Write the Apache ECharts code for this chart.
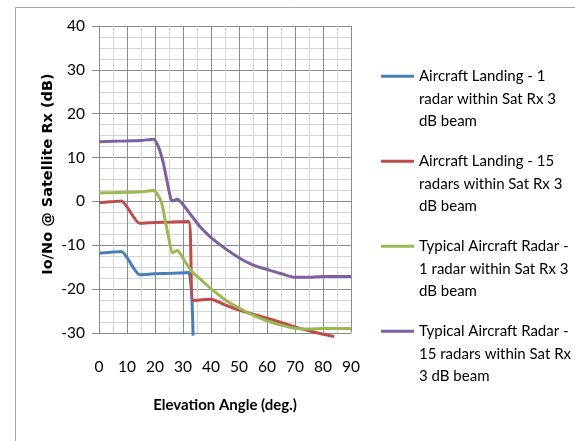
<!DOCTYPE html>
<html>
<head>
<meta charset="utf-8">
<script src="https://cdn.jsdelivr.net/npm/echarts@6/dist/echarts.min.js"></script>
<style>html,body{margin:0;padding:0;background:#fff;}#c{width:575px;height:441px;}</style>
</head>
<body>
<div id="c"></div>
<script>
const seriesNames = [
  'Aircraft Landing - 1\nradar within Sat Rx 3\ndB beam',
  'Aircraft Landing - 15\nradars within Sat Rx 3\ndB beam',
  'Typical Aircraft Radar -\n1 radar within Sat Rx 3\ndB beam',
  'Typical Aircraft Radar -\n15 radars within Sat Rx\n3 dB beam'
];
const blueX = [0, 4, 8, 14.5, 20, 26, 32, 33.6];
const blueY = [-11.8, -11.6, -11.4, -16.7, -16.5, -16.4, -16.2, -30.6];
const redX = [0, 4, 8, 14.5, 20, 26, 32, 33.7, 40, 45, 50, 55, 60, 65, 70, 75, 80, 84];
const redY = [-0.3, -0.1, 0.1, -5.0, -4.8, -4.7, -4.6, -22.6, -22.3, -23.6, -24.8, -25.7, -26.6, -27.6, -28.6, -29.5, -30.3, -30.8];
const greenX = [0, 5, 10, 15, 19.5, 21, 22.4, 23.6, 24.8, 26.2, 28, 30.7, 33.7, 36, 40, 45, 50, 55, 60, 65, 70, 75, 80, 85, 90];
const greenY = [1.9, 2.0, 2.1, 2.2, 2.5, 1.5, -0.4, -4.2, -8.0, -11.7, -11.2, -13.7, -16.4, -17.6, -19.9, -22.4, -24.3, -25.9, -27.2, -28.2, -28.9, -29.1, -29.0, -29.0, -29.0];
const purpleX = [0, 5, 10, 15, 19.5, 21.2, 23, 24.2, 25.6, 26.3, 28, 30.1, 33.7, 36.1, 39.6, 45, 50.4, 55.1, 60.5, 65.2, 70, 75.4, 80, 90];
const purpleY = [13.6, 13.7, 13.8, 13.9, 14.2, 12.5, 8.7, 4.9, 0.7, 0.1, 0.5, -0.8, -3.8, -5.8, -8.0, -10.7, -13.0, -14.5, -15.6, -16.5, -17.3, -17.3, -17.1, -17.1];
const colors = ['#4a7ebb', '#be4b48', '#98b954', '#7d60a0'];
const yTitle = 'Io/No @ Satellite Rx (dB)';
const xTitle = 'Elevation Angle (deg.)';

const allX = [blueX, redX, greenX, purpleX];
const allY = [blueY, redY, greenY, purpleY];
const FONT = 'Lato';

const chart = echarts.init(document.getElementById('c'));
chart.setOption({
  animation: false,
  backgroundColor: '#fff',
  color: colors,
  grid: { left: 99, right: 224, top: 26, bottom: 108, containLabel: false },
  xAxis: {
    type: 'value', min: 0, max: 90, interval: 10,
    name: xTitle, nameLocation: 'middle', nameGap: 65,
    nameTextStyle: { fontFamily: FONT, fontWeight: 'bold', fontSize: 15, color: '#000' },
    axisLine: { show: true, lineStyle: { color: '#8c8c8c', width: 1 } },
    axisTick: { show: false },
    axisLabel: { fontFamily: FONT, fontSize: 15.5, color: '#000', margin: 26 },
    splitLine: { show: true, lineStyle: { color: '#8c8c8c', width: 1 } },
    minorTick: { show: false, splitNumber: 2 },
    minorSplitLine: { show: true, lineStyle: { color: '#d4d4d4', width: 1 } }
  },
  yAxis: {
    type: 'value', min: -30, max: 40, interval: 10,
    axisLine: { show: true, lineStyle: { color: '#8c8c8c', width: 1 } },
    axisTick: { show: true, length: 7, inside: false, lineStyle: { color: '#8c8c8c' } },
    axisLabel: { fontFamily: FONT, fontSize: 15.5, color: '#000', margin: 14 },
    splitLine: { show: true, lineStyle: { color: '#8c8c8c', width: 1 } },
    minorTick: { show: false, splitNumber: 4 },
    minorSplitLine: { show: true, lineStyle: { color: '#d4d4d4', width: 1 } }
  },
  legend: {
    orient: 'vertical', left: 381, top: 65, padding: 0,
    itemWidth: 33, itemHeight: 67.5, itemGap: 17.5,
    icon: 'path://M0,0L0,0M0,9.75L33,9.75L33,12.75L0,12.75ZM0,67.5L0,67.5',
    textStyle: { fontFamily: FONT, fontSize: 15, color: '#000', lineHeight: 22.5 },
    data: seriesNames
  },
  graphic: [
    { type: 'rect', left: 13, top: 5, shape: { width: 600, height: 480 }, style: { fill: 'none', stroke: '#a6a6a6', lineWidth: 1 }, silent: true },
    { type: 'text', x: 48, y: 174, rotation: Math.PI / 2, style: { text: yTitle, fontFamily: 'DejaVu Sans', fontWeight: 'bold', fontSize: 14.5, fill: '#000', align: 'center', verticalAlign: 'middle' } }
  ],
  series: seriesNames.map((n, i) => ({
    name: n, type: 'line', showSymbol: false, symbol: 'none', clip: false,
    smooth: 0.2,
    lineStyle: { width: 3, color: colors[i] },
    data: allX[i].map((x, j) => [x, allY[i][j]])
  }))
});
</script>
</body>
</html>
